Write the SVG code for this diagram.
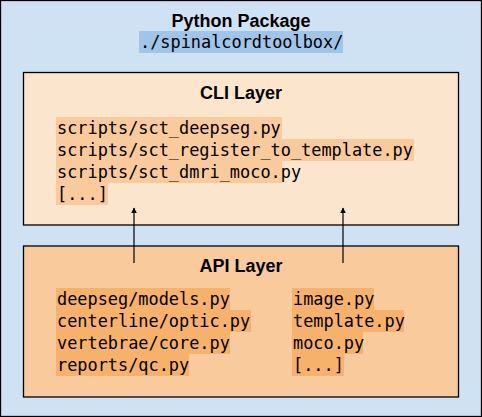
<svg xmlns="http://www.w3.org/2000/svg" width="482" height="417" viewBox="0 0 482 417">
<defs>
<style>
.box{stroke:#000;stroke-width:1.3}
.title{font-family:"Liberation Sans",Arial,sans-serif;font-weight:bold;font-size:18px;fill:#000;text-anchor:middle}
.code{font-family:"DejaVu Sans Mono","Liberation Mono",monospace;font-size:16.9px;fill:#000}
.hl-blue{fill:#9fc5e8}
.hl-cli{fill:#f9cb9c}
.hl-api{fill:#f6b26b}
.conn{stroke:#000;stroke-width:1.2;fill:none}
</style>
<marker id="arrow" viewBox="0 0 10 10" refX="9" refY="5" markerWidth="6" markerHeight="6" markerUnits="userSpaceOnUse" orient="auto">
<path d="M0,0 L10,5 L0,10 z" fill="#000"/>
</marker>
</defs>
<g id="package">
<rect class="box" x="0.5" y="0.5" width="481" height="416" fill="#cfe2f3"/>
<text class="title" x="241" y="27">Python Package</text>
<rect class="hl-blue" x="139" y="31" width="204" height="22"/>
<text class="code" x="140" y="48">./spinalcordtoolbox/</text>
</g>
<g id="cli">
<rect class="box" x="23.5" y="72.5" width="435" height="152.5" fill="#fce5cd"/>
<text class="title" x="241" y="99">CLI Layer</text>
<rect class="hl-cli" x="56" y="117" width="226" height="22"/>
<rect class="hl-cli" x="56" y="139" width="358" height="22"/>
<rect class="hl-cli" x="56" y="161" width="226" height="22"/>
<rect class="hl-cli" x="56" y="183" width="52" height="22"/>
<text class="code" x="57" y="134">scripts/sct_deepseg.py</text>
<text class="code" x="57" y="156">scripts/sct_register_to_template.py</text>
<text class="code" x="57" y="178">scripts/sct_dmri_moco.py</text>
<text class="code" x="57" y="200">[...]</text>
</g>
<g id="api">
<rect class="box" x="23.5" y="246" width="435" height="151" fill="#f9cb9c"/>
<text class="title" x="241" y="272">API Layer</text>
<rect class="hl-api" x="56" y="288" width="174" height="22"/>
<rect class="hl-api" x="56" y="310" width="195" height="22"/>
<rect class="hl-api" x="56" y="332" width="174" height="22"/>
<rect class="hl-api" x="56" y="354" width="133" height="22"/>
<text class="code" x="57" y="305">deepseg/models.py</text>
<text class="code" x="57" y="327">centerline/optic.py</text>
<text class="code" x="57" y="349">vertebrae/core.py</text>
<text class="code" x="57" y="371">reports/qc.py</text>
<rect class="hl-api" x="292" y="288" width="82" height="22"/>
<rect class="hl-api" x="292" y="310" width="112" height="22"/>
<rect class="hl-api" x="292" y="332" width="71" height="22"/>
<rect class="hl-api" x="292" y="354" width="52" height="22"/>
<text class="code" x="293" y="305">image.py</text>
<text class="code" x="293" y="327">template.py</text>
<text class="code" x="293" y="349">moco.py</text>
<text class="code" x="293" y="371">[...]</text>
</g>
<g id="connectors">
<line class="conn" x1="134" y1="263" x2="134" y2="208" marker-end="url(#arrow)"/>
<line class="conn" x1="343" y1="263" x2="343" y2="208" marker-end="url(#arrow)"/>
</g>
</svg>
